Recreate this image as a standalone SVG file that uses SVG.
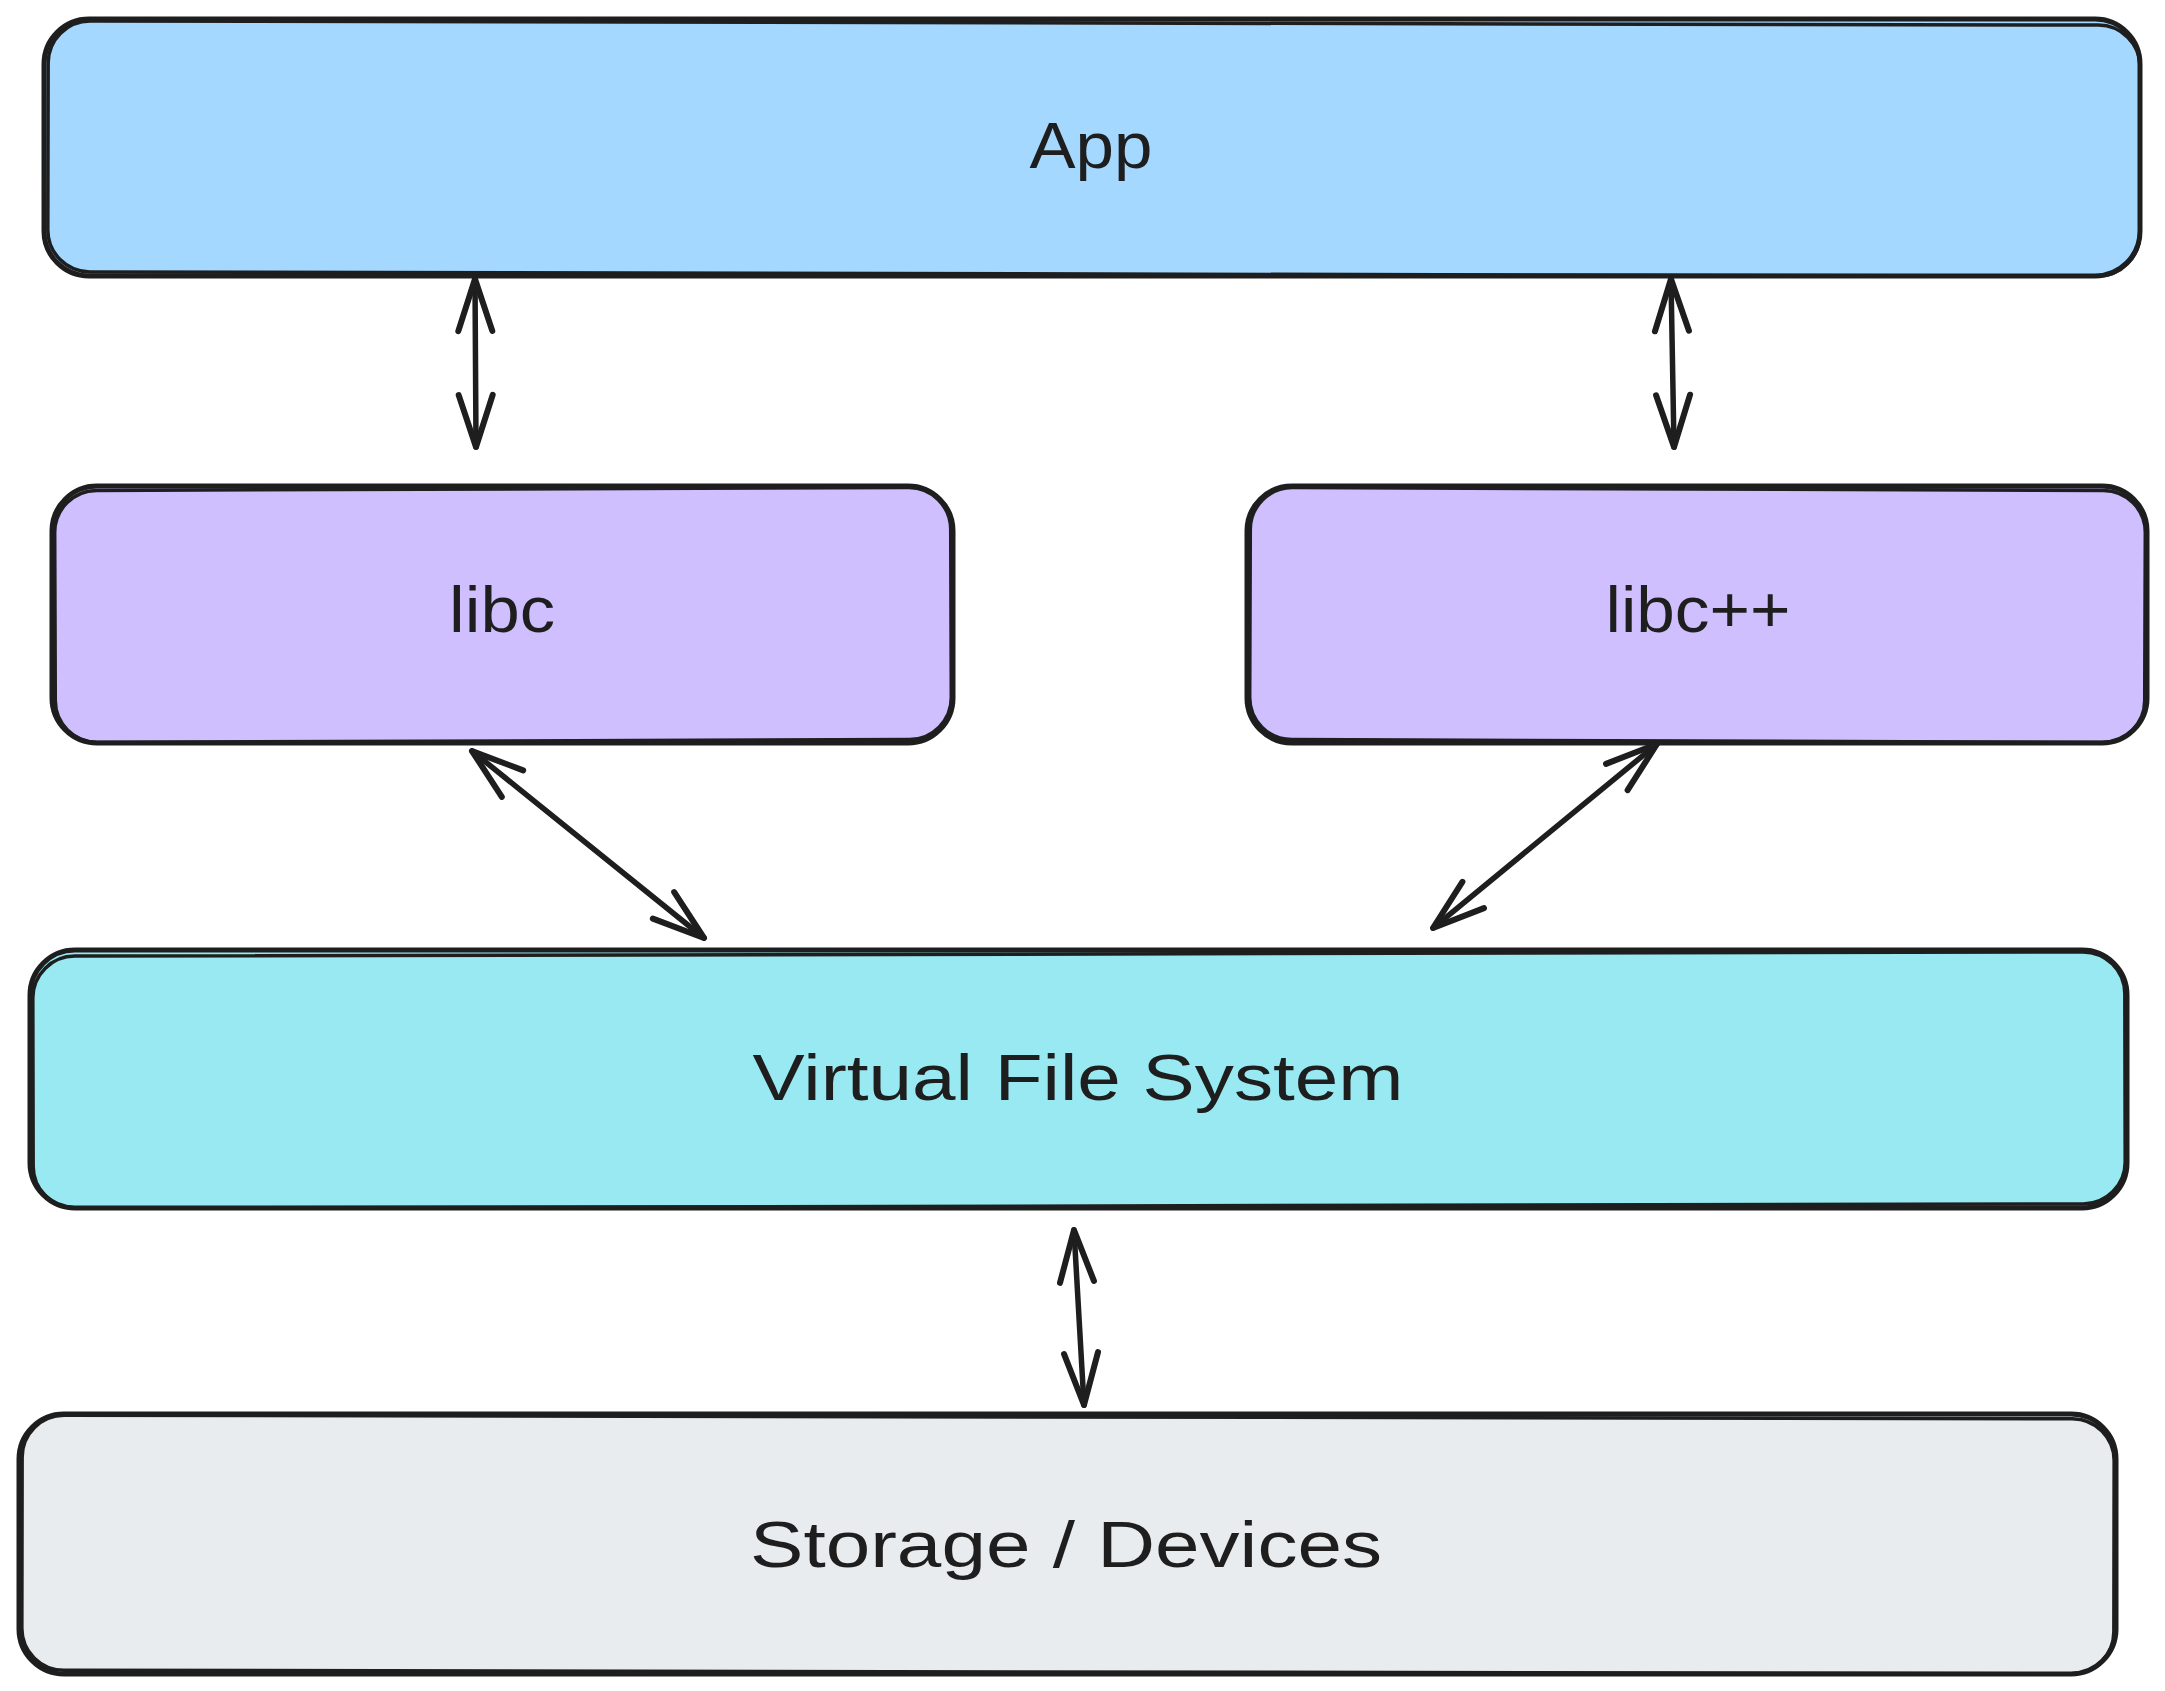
<svg xmlns="http://www.w3.org/2000/svg" width="2165" height="1691" viewBox="0 0 2165 1691">
<style>
.box{stroke:#1e1e1e;stroke-width:5;stroke-linejoin:round}
.sk{fill:none;stroke:#1e1e1e;stroke-width:3.5}
.lbl{font-family:"Liberation Sans","DejaVu Sans",sans-serif;font-size:64px;fill:#1e1e1e;text-anchor:middle}
.con{fill:none;stroke:#1e1e1e;stroke-width:5.5;stroke-linecap:round;marker-start:url(#ah);marker-end:url(#ah)}
</style>
<defs>
<marker id="ah" markerUnits="userSpaceOnUse" viewBox="-60 -30 70 60" markerWidth="70" markerHeight="60" refX="0" refY="0" orient="auto-start-reverse" overflow="visible">
<path d="M-52 -17 L0 0 L-52 17" fill="none" stroke="#1e1e1e" stroke-width="6" stroke-linecap="round" stroke-linejoin="round"/>
</marker>
</defs>
<rect width="2165" height="1691" fill="#ffffff"/>
<g id="app">
<rect class="box" x="44" y="19" width="2096" height="257" rx="45" fill="#a5d8ff"/>
<rect class="sk" x="48" y="23" width="2092" height="251" rx="42" transform="rotate(0.12 1092 148)"/>
<text class="lbl" x="1091" y="168" textLength="123" lengthAdjust="spacingAndGlyphs">App</text>
</g>
<g id="libc">
<rect class="box" x="52" y="486" width="901" height="257" rx="45" fill="#d0bfff"/>
<rect class="sk" x="55" y="489" width="896" height="252" rx="42" transform="rotate(-0.2 502 615)"/>
<text class="lbl" x="502" y="632" textLength="106" lengthAdjust="spacingAndGlyphs">libc</text>
</g>
<g id="libcpp">
<rect class="box" x="1247" y="486" width="900" height="257" rx="45" fill="#d0bfff"/>
<rect class="sk" x="1250" y="489" width="895" height="252" rx="42" transform="rotate(0.2 1697 615)"/>
<text class="lbl" x="1698" y="632" textLength="185" lengthAdjust="spacingAndGlyphs">libc++</text>
</g>
<g id="vfs">
<rect class="box" x="30" y="950" width="2097" height="258" rx="45" fill="#99e9f2"/>
<rect class="sk" x="33" y="954" width="2092" height="252" rx="42" transform="rotate(-0.12 1078 1079)"/>
<text class="lbl" x="1078" y="1100" textLength="651" lengthAdjust="spacingAndGlyphs">Virtual File System</text>
</g>
<g id="storage">
<rect class="box" x="19" y="1414" width="2097" height="260" rx="45" fill="#e9ecef"/>
<rect class="sk" x="22" y="1417" width="2092" height="255" rx="42" transform="rotate(0.1 1067 1544)"/>
<text class="lbl" x="1066" y="1567" textLength="632" lengthAdjust="spacingAndGlyphs">Storage / Devices</text>
</g>
<g id="connectors">
<path class="con" d="M475 279 L476 447"/>
<path class="con" d="M1671 279 L1674 447"/>
<path class="con" d="M472 751 L704 938"/>
<path class="con" d="M1657 744 L1433 928"/>
<path class="con" d="M1074 1230 L1084 1405"/>
</g>
</svg>
